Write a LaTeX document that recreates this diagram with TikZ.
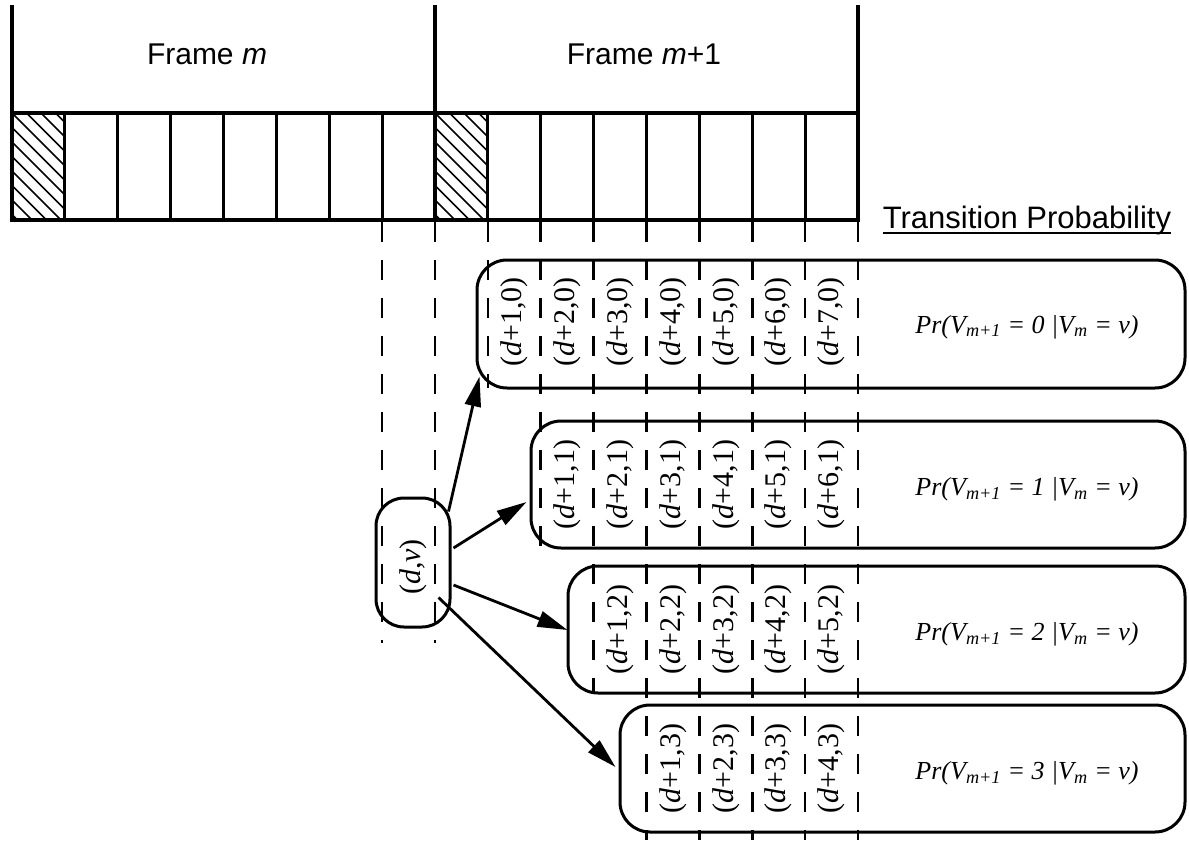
\documentclass[tikz,border=0pt]{standalone}
\usepackage{fontspec}
\setmainfont{Liberation Serif}
\newfontfamily\hvfont{Liberation Sans}
\usetikzlibrary{arrows.meta,calc}

\begin{document}
\begin{tikzpicture}[x=1pt,y=-1pt,
  thickline/.style={line width=3.6pt},
  rowline/.style={line width=4.2pt},
  slotline/.style={line width=2.8pt},
  guide/.style={line width=2.6pt, dash pattern=on 20pt off 18pt},
  hatchline/.style={line width=1.5pt},
  rbox/.style={draw, line width=3pt, rounded corners=30pt, inner sep=0pt},
  cell/.style={rotate=90, font=\fontsize{30}{32}\selectfont, inner sep=0pt},
  prob/.style={font=\fontsize{26}{28}\selectfont\itshape, inner sep=0pt},
  framelabel/.style={font=\hvfont\fontsize{30}{32}\selectfont, inner sep=0pt},
  arr/.style={line width=2.8pt, -{Triangle[length=30pt,width=16pt]}},
]
\useasboundingbox (0,0) rectangle (1189,844);
\def\sw{52.875}

% frame boundaries above the slot row
\draw[thickline] (12,5) -- (12,113);
\draw[thickline] (435,5) -- (435,113);
\draw[thickline] (858,5) -- (858,113);
\node[framelabel] (fm)  at (207,54) {Frame \textit{m}};
\node[framelabel] (fm1) at (644,54) {Frame \textit{m}+1};

% hatched first slot of each frame
\foreach \s in {0,8} {
  \begin{scope}
    \clip ({12+\s*\sw},113) rectangle ({12+(\s+1)*\sw},220);
    \foreach \k in {-8,...,4}
      \draw[hatchline] ({12+\s*\sw+\k*14.5},113) -- ++(130,130);
  \end{scope}
}

% slot row
\foreach \i in {1,...,7,9,10,...,15}
  \draw[slotline] ({12+\i*\sw},113) -- ({12+\i*\sw},220);
\draw[thickline] (435,113) -- (435,220);
\draw[rowline] (12,113) rectangle (858,220);

% slot guides running down from the row
\foreach \i in {7,8} \draw[guide] ({12+\i*\sw},222) -- ({12+\i*\sw},643);
\draw[guide] ({12+9*\sw},222) -- ({12+9*\sw},388);
\draw[guide] ({12+10*\sw},222) -- ({12+10*\sw},548);
\draw[guide] ({12+11*\sw},222) -- ({12+11*\sw},693);
\foreach \i in {12,...,16} \draw[guide] ({12+\i*\sw},222) -- ({12+\i*\sw},840);

\node[font=\hvfont\fontsize{31}{33}\selectfont, inner sep=0pt, anchor=base] (tp) at (1027,228) {Transition Probability};
\draw[line width=2.4pt] ($(tp.base west)+(0,5)$) -- ($(tp.base east)+(0,5)$);

% current state
\node[rbox, rounded corners=28pt, minimum width=74pt, minimum height=129pt] (dv) at (413,562.5) {};
\node[cell] (dvl) at (413,567) {(\textit{d},\textit{v})};

% successor state groups
\node[rbox, minimum width=708pt, minimum height=128pt] (b0) at (831,324) {};
\node[rbox, minimum width=654pt, minimum height=127pt] (b1) at (858,484.5) {};
\node[rbox, minimum width=617pt, minimum height=127pt] (b2) at (876.5,629.5) {};
\node[rbox, minimum width=565pt, minimum height=127pt] (b3) at (902.5,768.5) {};

\foreach \j/\n/\yc in {0/7/322, 1/6/484.5, 2/5/629.5, 3/4/768.5} {
  \foreach \c in {1,...,\n}
    \node[cell] (l\j\c) at ({12+(8+\j+\c+0.5)*\sw},\yc) {(\textit{d}+\c,\j)};
  \node[prob] (p\j) at (1027,{\yc+5}) {Pr(V\textsubscript{m+1} = \j\ |V\textsubscript{m} = v)};
}

% transitions
\draw[arr] ($(dv.north east)+(-3,15)$) -- ($(b0.south west)+(4,-13)$);
\draw[arr] ($(dv.east)+(2,-14.5)$) -- ($(b1.west)+(-3,17.5)$);
\draw[arr] ($(dv.east)+(2,22.5)$) -- ($(b2.west)+(1,0.5)$);
\draw[arr] ($(dv.east)+(-13,35)$) -- ($(b3.west)+(-3,-1.5)$);
\end{tikzpicture}
\end{document}
